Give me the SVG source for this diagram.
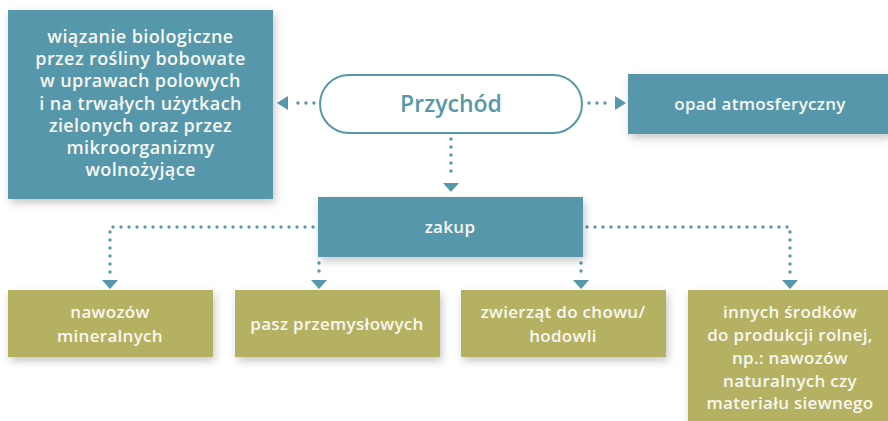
<svg xmlns="http://www.w3.org/2000/svg" width="888" height="421" viewBox="0 0 888 421">
<defs>
<filter id="sh" x="-10%" y="-10%" width="130%" height="140%">
<feDropShadow dx="2" dy="4" stdDeviation="4" flood-color="#000" flood-opacity="0.22"/>
</filter>
</defs>
<style>
.teal{fill:#5797ac;filter:url(#sh)}
.olive{fill:#b5b163;filter:url(#sh)}
.t{font-family:"Open Sans","Noto Sans",sans-serif;font-weight:600;font-size:17px;letter-spacing:0.3px;fill:#f7f7f2;text-anchor:middle}
.big{font-size:18px;letter-spacing:0.4px}
.dot{fill:none;stroke:#5797ac;stroke-width:3.4;stroke-linecap:round;stroke-dasharray:0 8}
.ar{fill:#5797ac}
</style>
<g id="connectors">
<path class="dot" d="M314 103 L290 103"/>
<path class="ar" d="M277 103 L288 96 L288 110 Z"/>
<path class="dot" d="M589 103 L613 103"/>
<path class="ar" d="M626 103 L615 96 L615 110 Z"/>
<path class="dot" d="M451 139 L451 179"/>
<path class="ar" d="M451 192 L443 183 L459 183 Z"/>
<path class="dot" d="M313 227 L110 227 L110 275"/>
<path class="ar" d="M110 289 L102 280 L118 280 Z"/>
<path class="dot" d="M319 263 L319 275"/>
<path class="ar" d="M319 289 L311 280 L327 280 Z"/>
<path class="dot" d="M581 263 L581 275"/>
<path class="ar" d="M581 289 L573 280 L589 280 Z"/>
<path class="dot" d="M587 227 L790 227 L790 275"/>
<path class="ar" d="M790 289 L782 280 L798 280 Z"/>
</g>
<g id="wiazanie">
<rect class="teal" x="8" y="10" width="265" height="189"/>
<text class="t big" x="140.5" y="43">wiązanie biologiczne</text>
<text class="t big" x="140.5" y="65">przez rośliny bobowate</text>
<text class="t big" x="140.5" y="87">w uprawach polowych</text>
<text class="t big" x="140.5" y="110">i na trwałych użytkach</text>
<text class="t big" x="140.5" y="132">zielonych oraz przez</text>
<text class="t big" x="140.5" y="154">mikroorganizmy</text>
<text class="t big" x="140.5" y="176">wolnożyjące</text>
</g>
<g id="przychod">
<rect x="320" y="75" width="262" height="58" rx="29" fill="#fff" stroke="#5797ac" stroke-width="2"/>
<text x="451" y="112" text-anchor="middle" font-family="Open Sans, Noto Sans, sans-serif" font-weight="600" font-size="23" fill="#5797ac">Przychód</text>
</g>
<g id="opad">
<rect class="teal" x="628" y="74" width="262" height="60"/>
<text class="t" x="760" y="110">opad atmosferyczny</text>
</g>
<g id="zakup">
<rect class="teal" x="318" y="197" width="265" height="60"/>
<text class="t" x="450" y="233">zakup</text>
</g>
<g id="nawozow">
<rect class="olive" x="8" y="290" width="205" height="67"/>
<text class="t" x="110" y="318">nawozów</text>
<text class="t" x="110" y="342">mineralnych</text>
</g>
<g id="pasz">
<rect class="olive" x="235" y="290" width="205" height="67"/>
<text class="t" x="337" y="330">pasz przemysłowych</text>
</g>
<g id="zwierzat">
<rect class="olive" x="461" y="290" width="205" height="67"/>
<text class="t" x="563" y="318">zwierząt do chowu/</text>
<text class="t" x="563" y="342">hodowli</text>
</g>
<g id="innych">
<rect class="olive" x="688" y="290" width="205" height="135"/>
<text class="t" x="790" y="318">innych środków</text>
<text class="t" x="790" y="341">do produkcji rolnej,</text>
<text class="t" x="790" y="364">np.: nawozów</text>
<text class="t" x="790" y="387">naturalnych czy</text>
<text class="t" x="790" y="409">materiału siewnego</text>
</g>
</svg>
